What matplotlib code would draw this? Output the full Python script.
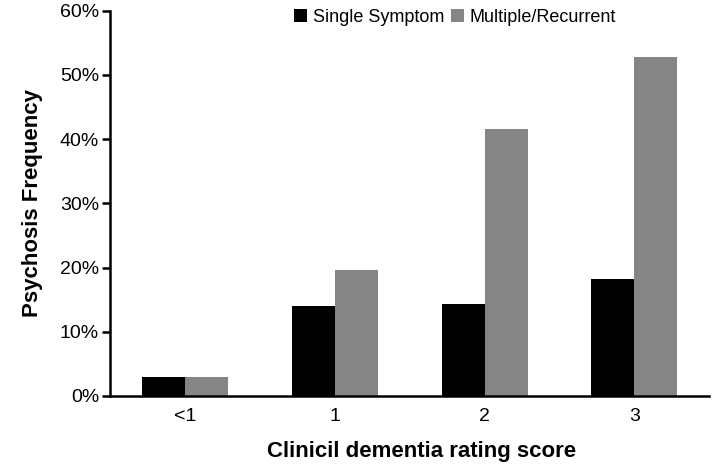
import matplotlib

matplotlib.use("Agg")
import matplotlib.pyplot as plt  # noqa: E402
import numpy as np  # noqa: E402
from matplotlib.ticker import PercentFormatter  # noqa: E402

# values (percent)
categories = ["<1", "1", "2", "3"]
single_symptom = [3.0, 14.0, 14.3, 18.2]
multiple_recurrent = [3.0, 19.6, 41.6, 52.8]
series_labels = ["Single Symptom", "Multiple/Recurrent"]
y_ticks = [0, 10, 20, 30, 40, 50, 60]

BLACK = "#000000"
GRAY = "#858585"

plt.rcParams["font.family"] = ["Liberation Sans", "DejaVu Sans"]

fig = plt.figure(figsize=(7.2, 4.68), dpi=100)
ax = fig.add_axes([0.153, 0.154, 0.832, 0.823])

x = np.arange(len(categories))
w = 0.287
ax.bar(x - w / 2, single_symptom, w, color=BLACK, label=series_labels[0])
ax.bar(x + w / 2, multiple_recurrent, w, color=GRAY, label=series_labels[1])

ax.set_xlim(-0.5, len(categories) - 0.5)
ax.set_ylim(0, 60)
ax.set_yticks(y_ticks)
ax.yaxis.set_major_formatter(PercentFormatter(decimals=0))
ax.set_xticks(x)
ax.set_xticklabels(categories)

for s in ("top", "right"):
    ax.spines[s].set_visible(False)
for s in ("left", "bottom"):
    ax.spines[s].set_linewidth(1.8)
ax.tick_params(axis="y", length=6, width=1.8, labelsize=14, pad=2)
ax.tick_params(axis="x", length=0, labelsize=14, pad=9)

ax.set_ylabel("Psychosis Frequency", fontsize=16, fontweight="bold", labelpad=12)
ax.set_xlabel("Clinicil dementia rating score", fontsize=16, fontweight="bold", labelpad=11)
ax.xaxis.label.set_x(0.52)

fig.legend(loc="center", bbox_to_anchor=(0.632, 0.963), ncol=2, frameon=False,
           fontsize=13, handlelength=0.7, handleheight=0.7, handletextpad=0.3,
           columnspacing=0.4, borderpad=0)

fig.savefig("out.png", dpi=100)
